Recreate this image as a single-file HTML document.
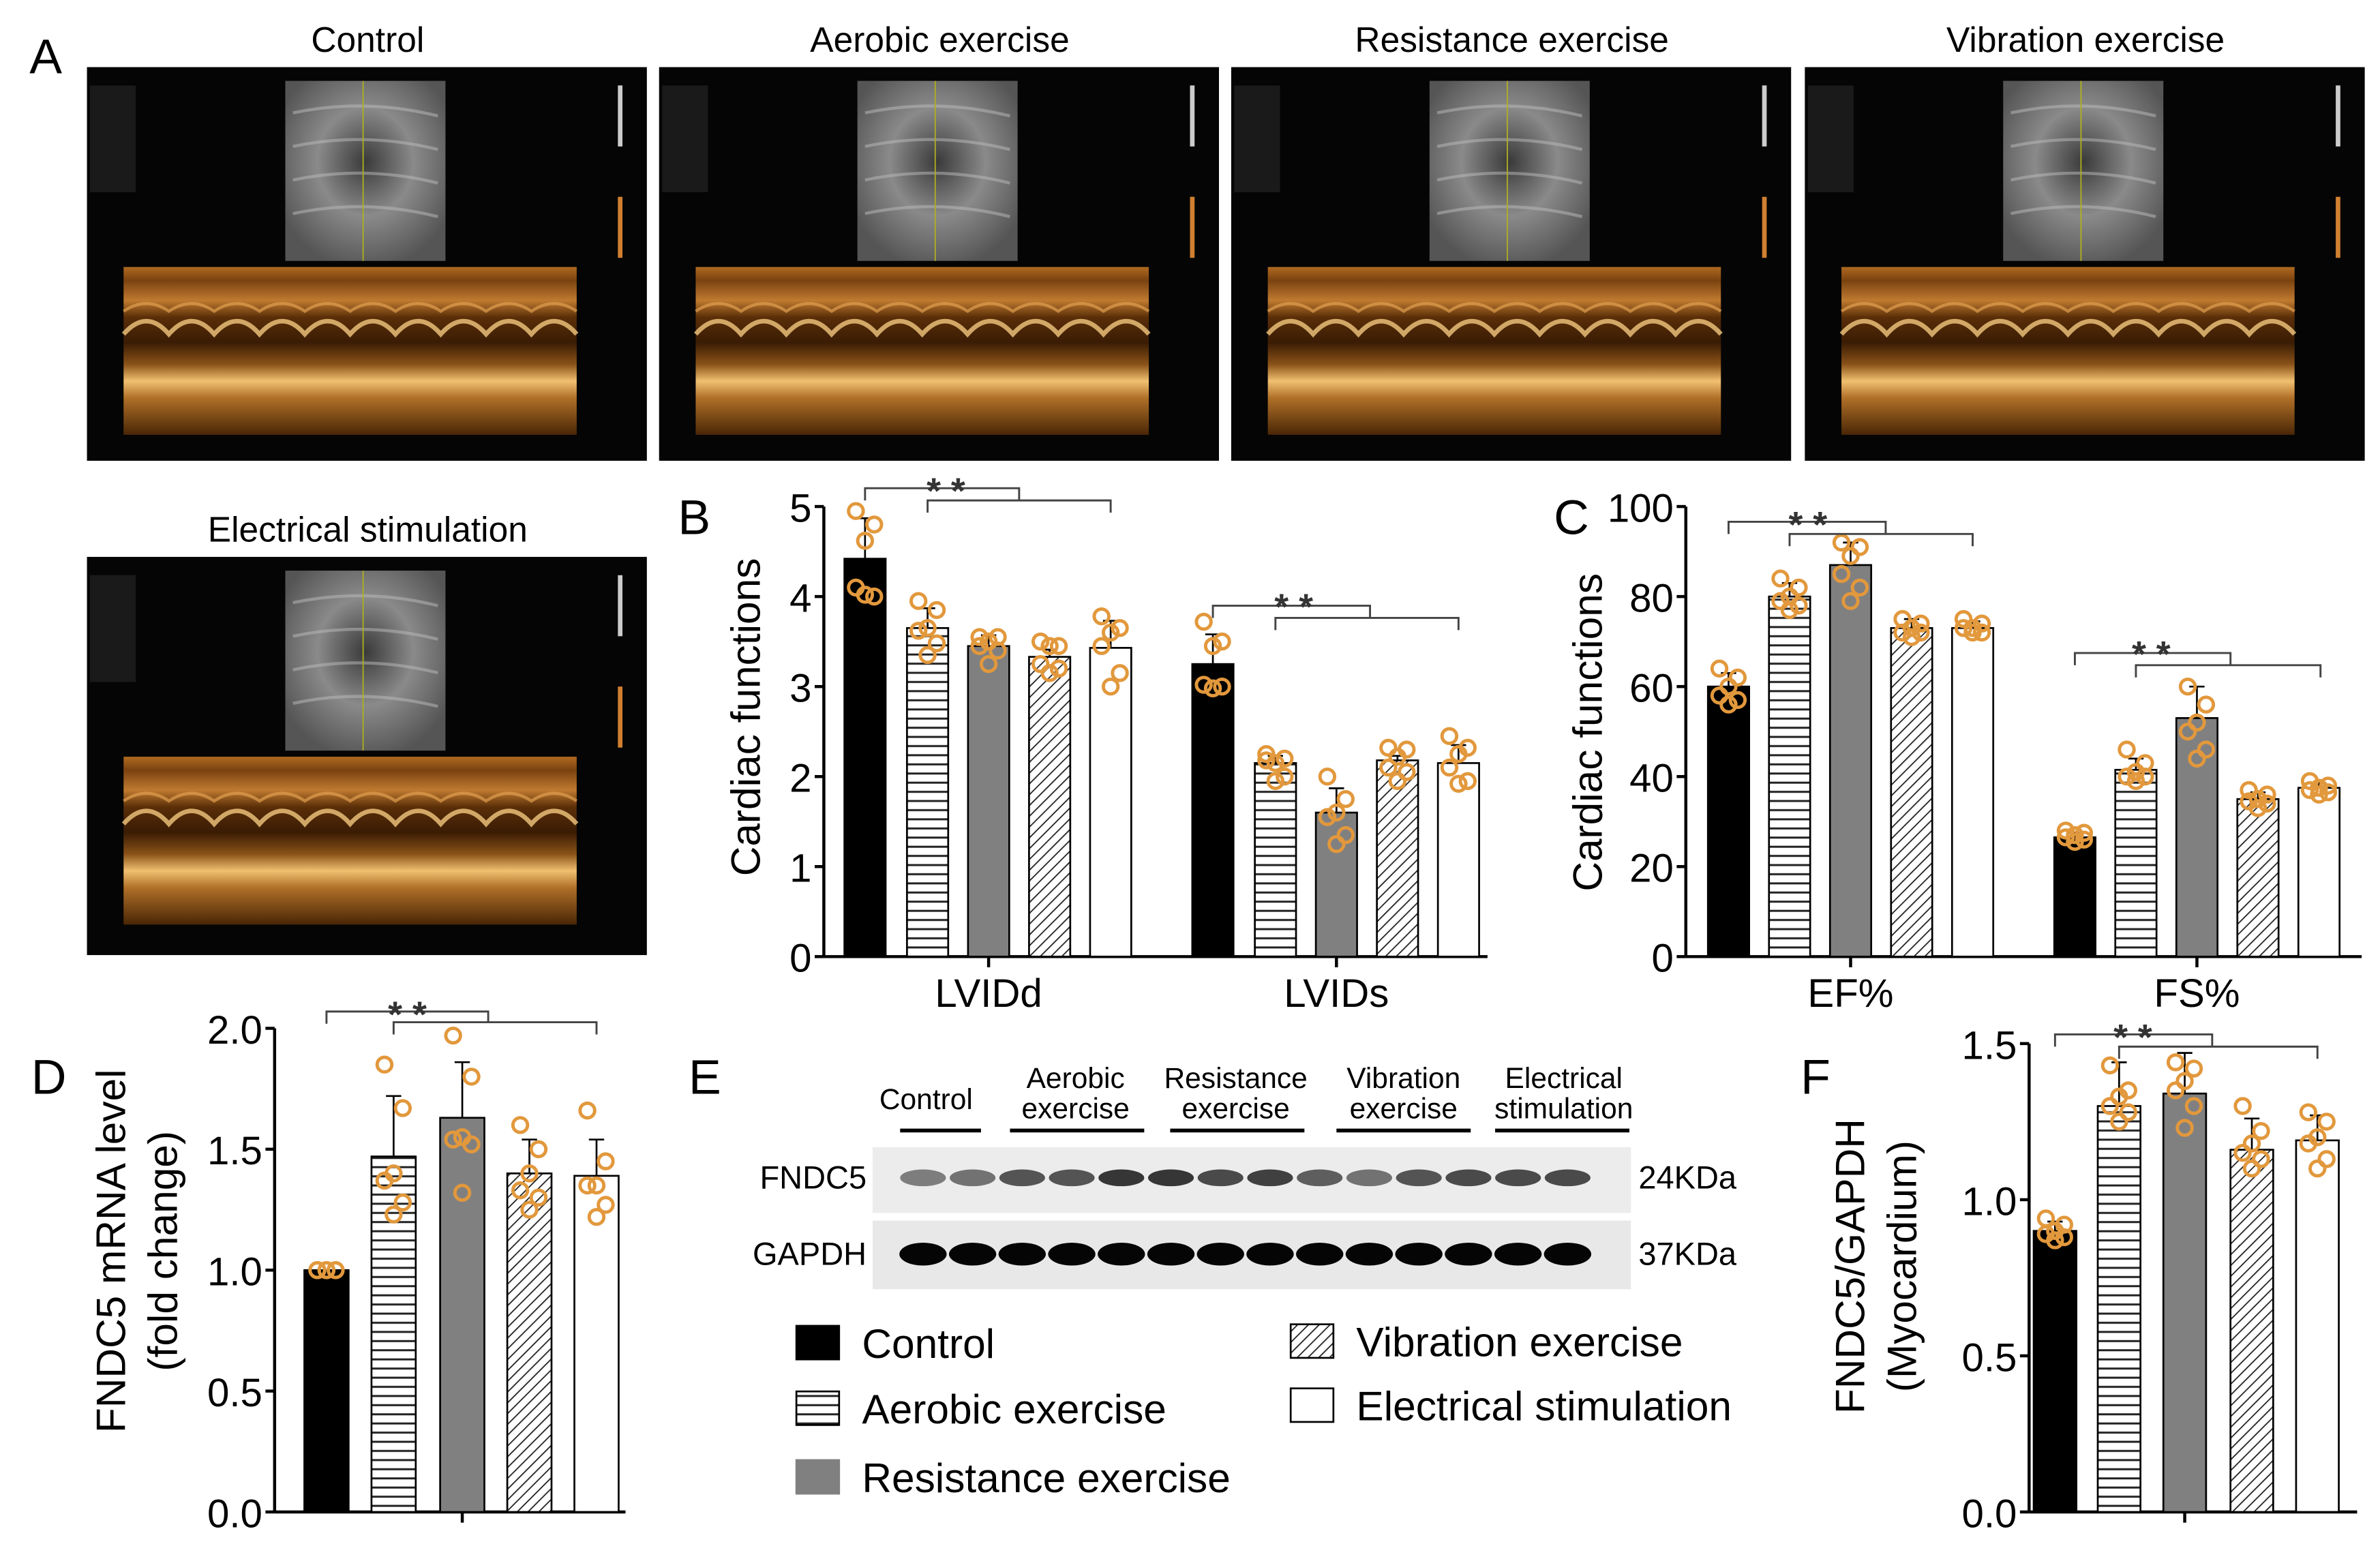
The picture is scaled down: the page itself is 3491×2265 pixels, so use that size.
<!DOCTYPE html>
<html><head><meta charset="utf-8"><style>
html,body{margin:0;padding:0;background:#fff;}
svg{display:block;font-family:"Liberation Sans",Arial,sans-serif;}
</style></head><body>
<svg id="fig" width="3491" height="2265" viewBox="0 0 1560 1012" preserveAspectRatio="none" xmlns="http://www.w3.org/2000/svg">
<defs>
<pattern id="hpat" patternUnits="userSpaceOnUse" width="10" height="6"><rect width="10" height="6" fill="#fff"/><line x1="0" y1="3" x2="10" y2="3" stroke="#222" stroke-width="1.3"/></pattern>
<pattern id="dpat" patternUnits="userSpaceOnUse" width="5" height="5" patternTransform="rotate(45)"><rect width="5" height="5" fill="#fff"/><line x1="0" y1="0" x2="0" y2="5" stroke="#222" stroke-width="1.6"/></pattern>
<linearGradient id="mmode" x1="0" y1="0" x2="0" y2="1">
<stop offset="0" stop-color="#b06a20"/><stop offset="0.08" stop-color="#7a4210"/><stop offset="0.2" stop-color="#c07a30"/>
<stop offset="0.3" stop-color="#5a2e08"/><stop offset="0.45" stop-color="#3a1c04"/><stop offset="0.58" stop-color="#8a5218"/>
<stop offset="0.68" stop-color="#f0c070"/><stop offset="0.78" stop-color="#b07028"/><stop offset="1" stop-color="#4a2606"/>
</linearGradient>
<radialGradient id="sector" cx="0.5" cy="0.45" r="0.6">
<stop offset="0" stop-color="#3a3a3a"/><stop offset="0.5" stop-color="#8a8a8a"/><stop offset="1" stop-color="#555"/>
</radialGradient>
</defs>
<g id="panelA"></g>
<g id="panelB"></g>
<g id="panelC"></g>
<g id="panelD"></g>
<g id="panelE"></g>
<g id="panelF"></g>
</svg>
<script>
const NS="http://www.w3.org/2000/svg";
// ---- data ----
const groups=["Control","Aerobic exercise","Resistance exercise","Vibration exercise","Electrical stimulation"];
const bCategories=["LVIDd","LVIDs"];
const bMeans=[[4.42,3.65,3.45,3.33,3.43],[3.25,2.15,1.6,2.18,2.15]];
const bErrors=[[0.45,0.22,0.12,0.08,0.3],[0.33,0.08,0.27,0.05,0.2]];
const bDots=[[[4.95,4.8,4.62,4.1,4.0,4.02],[3.95,3.85,3.65,3.62,3.48,3.35],[3.55,3.55,3.5,3.45,3.4,3.25],[3.5,3.45,3.45,3.25,3.2,3.15],[3.78,3.65,3.6,3.45,3.15,3.0]],
 [[3.72,3.5,3.45,3.02,3.0,2.98],[2.25,2.2,2.15,2.18,2.0,1.95],[2.0,1.75,1.6,1.55,1.35,1.25],[2.32,2.3,2.22,2.1,2.05,1.95],[2.45,2.32,2.25,2.1,1.95,1.92]]];
const bTicks=[0,1,2,3,4,5];
const cCategories=["EF%","FS%"];
const cMeans=[[60,80,87,73,73],[26.5,41.5,53,35,37.5]];
const cErrors=[[3,3,5,2,1.5],[1,2.5,7,1.5,1]];
const cDots=[[[64,62,60,58,57,56],[84,82,80,79,78,77],[92,91,89,85,82,79],[75,74,73,72,72,71],[75,74,73,73,72,72]],
 [[28,27.5,27,26.5,26,25.5],[46,43,41,40,40,39],[60,56,52,50,46,44],[37,36,35,34.5,34,33],[39,38,37.5,37,36.5,36]]];
const cTicks=[0,20,40,60,80,100];
const dMeans=[1.0,1.47,1.63,1.4,1.39];
const dErrors=[0,0.25,0.23,0.14,0.15];
const dDots=[[1,1,1,1,1,1],[1.85,1.67,1.4,1.37,1.28,1.23],[1.97,1.8,1.55,1.54,1.52,1.32],[1.6,1.5,1.4,1.33,1.3,1.25],[1.66,1.45,1.35,1.35,1.27,1.22]];
const dTicks=[0.0,0.5,1.0,1.5,2.0];
const fMeans=[0.9,1.3,1.34,1.16,1.19];
const fErrors=[0.03,0.14,0.13,0.1,0.08];
const fDots=[[0.94,0.92,0.9,0.89,0.88,0.87],[1.43,1.35,1.33,1.3,1.28,1.25],[1.44,1.42,1.38,1.35,1.3,1.23],[1.3,1.22,1.18,1.15,1.13,1.1],[1.28,1.25,1.2,1.18,1.13,1.1]];
const fTicks=[0.0,0.5,1.0,1.5];
const fndc5Intensity=[0.55,0.6,0.75,0.75,0.9,0.9,0.8,0.85,0.7,0.6,0.75,0.8,0.8,0.8];
const gapdhIntensity=[1,1,1,1,1,1,1,1,1,1,1,1,1,1];

function mk(tag,attrs,parent,text){const e=document.createElementNS(NS,tag);for(const k in attrs)e.setAttribute(k,attrs[k]);if(text!==undefined)e.textContent=text;parent.appendChild(e);return e;}
const fills=["#000","url(#hpat)","#808080","url(#dpat)","#fff"];
const jitter=[-6,6,0,-6,6,0];

function yScale(y0,y1,vmin,vmax){return v=>y0-(v-vmin)/(vmax-vmin)*(y0-y1);}

function drawAxis(g,ax,y0,x1,ys,ticks,fmt,fs){
  const yl=mk("line",{x1:ax,y1:ys(ticks[ticks.length-1]),x2:ax,y2:y0,stroke:"#000","stroke-width":2},g);
  
  const xl=mk("line",{x1:ax,y1:y0,x2:x1,y2:y0,stroke:"#000","stroke-width":2},g);
  
  ticks.forEach(t=>{const y=ys(t);
    mk("line",{x1:ax-6,y1:y,x2:ax,y2:y,stroke:"#000","stroke-width":2},g);
    const tl=mk("text",{x:ax-8,y:y+10,"text-anchor":"end","font-size":fs},g,fmt(t));
    });
}
function drawBars(g,centers,means,errs,dots,ys,y0,bw){
  centers.forEach((cx,i)=>{
    const yt=ys(means[i]);
    const r=mk("rect",{x:cx-bw/2,y:yt,width:bw,height:y0-yt,fill:fills[i],stroke:"#000","stroke-width":1.2},g);
    
    
    if(errs[i]>0){const ye=ys(means[i]+errs[i]);
      mk("line",{x1:cx,y1:yt,x2:cx,y2:ye,stroke:"#000","stroke-width":1.2},g);
      mk("line",{x1:cx-5,y1:ye,x2:cx+5,y2:ye,stroke:"#000","stroke-width":1.2},g);}
    dots[i].forEach((v,k)=>{const c=mk("circle",{cx:cx+jitter[k],cy:ys(v),r:4.8,fill:"none",stroke:"#e2983c","stroke-width":2.2},g);
      });
  });
}
function bracket(g,xa,xb,xc,xd,ya,yb,sx,sy){
  const p=`M${xa},${ya+8} L${xa},${ya} L${xb},${ya} L${xb},${yb} M${xc},${yb+8} L${xc},${yb} L${xd},${yb} L${xd},${yb+8}`;
  const b=mk("path",{d:p,fill:"none",stroke:"#444","stroke-width":1.3},g);
  
  const t=mk("text",{x:sx,y:sy+4,"text-anchor":"middle","font-size":24,"font-weight":"bold",fill:"#333"},g,"* *");
  
}
function label(g,x,y,t,name){const e=mk("text",{x:x,y:y,"font-size":32,"text-anchor":"middle"},g,t);return e;}
function ytitle(g,x,cy,t,fs){const e=mk("text",{x:0,y:0,"font-size":fs,"text-anchor":"middle",transform:`translate(${x},${cy}) rotate(-90)`},g,t);return e;}

// ---- Panel A ----
(function(){
  const g=document.getElementById("panelA");
  label(g,30,48,"A","panel-label-a");
  const panels=[[57,44,"Control"],[432,44,"Aerobic exercise"],[807,44,"Resistance exercise"],[1183,44,"Vibration exercise"],[57,365,"Electrical stimulation"]];
  panels.forEach(([x,y,t],k)=>{
    const sg=mk("g",{},g);
    const tt=mk("text",{x:x+184,y:y-10,"text-anchor":"middle","font-size":23},g,t);
    
    const h=(k==4)?261:258;
    mk("rect",{x:x,y:y,width:367,height:h,fill:"#050505"},sg);
    mk("rect",{x:x+130,y:y+9,width:105,height:118,fill:"url(#sector)"},sg);
    for(let s=0;s<4;s++) mk("path",{d:`M${x+135},${y+30+s*22} Q${x+182},${y+20+s*22} ${x+230},${y+32+s*22}`,fill:"none",stroke:"#bbb","stroke-width":2,opacity:0.5},sg);
    mk("line",{x1:x+181,y1:y+9,x2:x+181,y2:y+127,stroke:"#b0b020","stroke-width":0.8},sg);
    mk("rect",{x:x+24,y:y+131,width:297,height:110,fill:"url(#mmode)"},sg);
    let d=`M${x+24},${y+175}`;for(let i=0;i<10;i++){const xx=x+24+i*29.7;d+=` Q${xx+15},${y+158} ${xx+29.7},${y+175}`;}
    mk("path",{d:d,fill:"none",stroke:"#f3c880","stroke-width":3,opacity:0.8},sg);
    let d2=`M${x+24},${y+160}`;for(let i=0;i<10;i++){const xx=x+24+i*29.7;d2+=` Q${xx+15},${y+150} ${xx+29.7},${y+160}`;}
    mk("path",{d:d2,fill:"none",stroke:"#e0a050","stroke-width":2,opacity:0.7},sg);
    mk("rect",{x:x+2,y:y+12,width:30,height:70,fill:"#1a1a1a"},sg);
    mk("rect",{x:x+348,y:y+12,width:3,height:40,fill:"#ccc"},sg);
    mk("rect",{x:x+348,y:y+85,width:3,height:40,fill:"#d08030"},sg);
  });
})();

// ---- Panel B ----
(function(){
  const g=document.getElementById("panelB");
  label(g,455,350,"B","panel-label-b");
  const ys=yScale(627,332,0,5);
  drawAxis(g,540,627,975,ys,bTicks,t=>String(t),26);
  const groupCenters=[648,876];
  groupCenters.forEach((gc,j)=>{
    mk("line",{x1:gc,y1:627,x2:gc,y2:634,stroke:"#000","stroke-width":2},g);
    const t=mk("text",{x:gc,y:660,"text-anchor":"middle","font-size":26},g,bCategories[j]);
    
    drawBars(g,[gc-81,gc-40,gc,gc+40,gc+80],bMeans[j],bErrors[j],bDots[j],ys,627,27);
  });
  bracket(g,567,668,608,728,320,328,620,326);
  bracket(g,795,898,836,956,397,405,848,402);
  ytitle(g,498,470,"Cardiac functions",27);
})();

// ---- Panel C ----
(function(){
  const g=document.getElementById("panelC");
  label(g,1030,350,"C","panel-label-c");
  const ys=yScale(627,332,0,100);
  drawAxis(g,1105,627,1548,ys,cTicks,t=>String(t),26);
  const groupCenters=[1213,1440];
  groupCenters.forEach((gc,j)=>{
    mk("line",{x1:gc,y1:627,x2:gc,y2:634,stroke:"#000","stroke-width":2},g);
    const t=mk("text",{x:gc,y:660,"text-anchor":"middle","font-size":26},g,cCategories[j]);
    
    drawBars(g,[gc-80,gc-40,gc,gc+40,gc+80],cMeans[j],cErrors[j],cDots[j],ys,627,27);
  });
  bracket(g,1133,1236,1173,1293,342,350,1185,348);
  bracket(g,1360,1462,1400,1521,428,436,1410,433);
  ytitle(g,1050,480,"Cardiac functions",27);
})();

// ---- Panel D ----
(function(){
  const g=document.getElementById("panelD");
  label(g,32,717,"D","panel-label-d");
  const ys=yScale(991,674,0,2);
  drawAxis(g,180,991,410,ys,dTicks,t=>t.toFixed(1),26);
  mk("line",{x1:303,y1:991,x2:303,y2:998,stroke:"#000","stroke-width":2},g);
  drawBars(g,[214,258,303,347,391],dMeans,dErrors,dDots,ys,991,29);
  bracket(g,214,320,258,391,663,670,267,669);
  ytitle(g,82,820,"FNDC5 mRNA level",27);
  ytitle(g,116,820,"(fold change)",27);
})();

// ---- Panel E ----
(function(){
  const g=document.getElementById("panelE");
  label(g,462,717,"E","panel-label-e");
  const labs=[[607,["Control"],590,643],[705,["Aerobic","exercise"],662,750],[810,["Resistance","exercise"],767,855],[920,["Vibration","exercise"],876,964],[1025,["Electrical","stimulation"],980,1068]];
  labs.forEach(([cx,lines,l1,l2])=>{
    lines.forEach((s,i)=>{const y=lines.length==1?727:713+i*20;
      const t=mk("text",{x:cx,y:y,"text-anchor":"middle","font-size":19},g,s);
      });
    mk("line",{x1:l1,y1:741,x2:l2,y2:741,stroke:"#000","stroke-width":2.5},g);
  });
  mk("rect",{x:572,y:752,width:497,height:43,fill:"#ececec"},g);
  mk("rect",{x:572,y:800,width:497,height:45,fill:"#e8e8e8"},g);
  for(let i=0;i<14;i++){const cx=605+i*32.5;
    const b1=mk("ellipse",{cx:cx,cy:772,rx:15,ry:5.5,fill:"#222",opacity:fndc5Intensity[i]},g);
    
    const b2=mk("ellipse",{cx:cx,cy:822,rx:15.5,ry:7.5,fill:"#050505",opacity:gapdhIntensity[i]},g);
    }
  [["FNDC5",568,779,"end"],["GAPDH",568,829,"end"],["24KDa",1074,779,"start"],["37KDa",1074,829,"start"]].forEach(([s,x,y,a])=>{
    const t=mk("text",{x:x,y:y,"text-anchor":a,"font-size":21},g,s);});
  const leg=[[522,869,0,"Control"],[522,912,1,"Aerobic exercise"],[522,957,2,"Resistance exercise"],[846,868,3,"Vibration exercise"],[846,910,4,"Electrical stimulation"]];
  leg.forEach(([x,y,i,s])=>{
    const lg=mk("g",{},g);
    mk("rect",{x:x,y:y,width:28,height:22,fill:fills[i],stroke:i==2?"#808080":"#000","stroke-width":1.2},lg);
    mk("text",{x:x+43,y:y+21,"font-size":27},lg,s);
  });
})();

// ---- Panel F ----
(function(){
  const g=document.getElementById("panelF");
  label(g,1190,717,"F","panel-label-f");
  const ys=yScale(991,684,0,1.5);
  drawAxis(g,1330,991,1545,ys,fTicks,t=>t.toFixed(1),26);
  mk("line",{x1:1432,y1:991,x2:1432,y2:998,stroke:"#000","stroke-width":2},g);
  drawBars(g,[1347,1389,1432,1476,1519],fMeans,fErrors,fDots,ys,991,28);
  bracket(g,1347,1450,1389,1519,678,686,1398,684);
  ytitle(g,1222,830,"FNDC5/GAPDH",27);
  ytitle(g,1256,830,"(Myocardium)",27);
})();
</script>
</body></html>
